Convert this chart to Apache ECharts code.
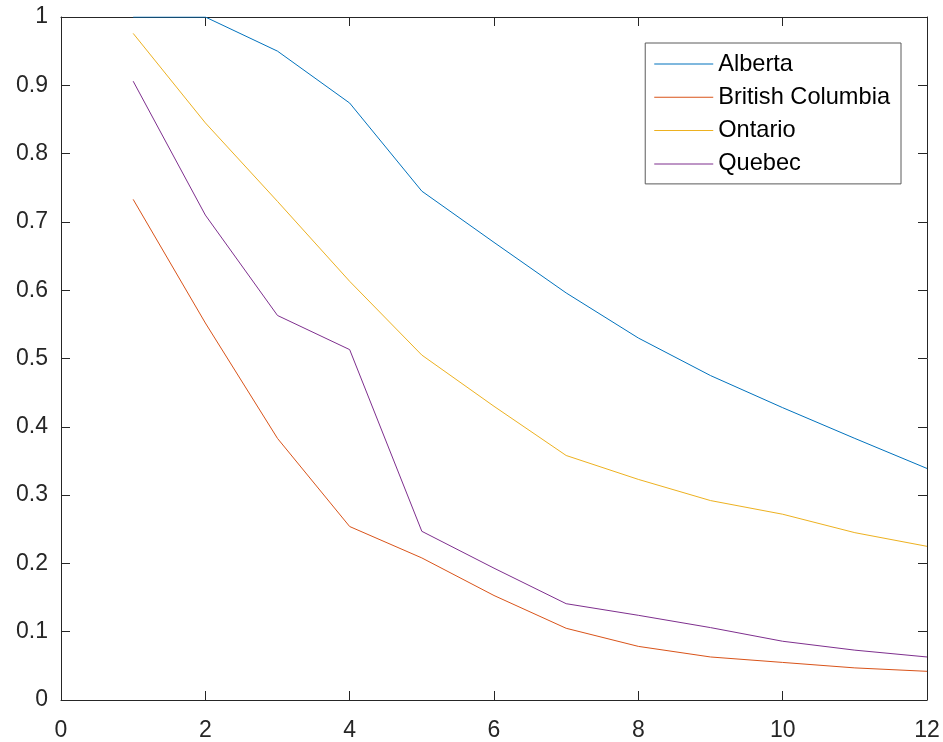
<!DOCTYPE html>
<html>
<head>
<meta charset="utf-8">
<script src="https://cdn.jsdelivr.net/npm/echarts@6/dist/echarts.min.js"></script>
<style>html,body{margin:0;padding:0;background:#fff}#c{width:943px;height:742px}</style>
</head>
<body>
<div id="c"></div>
<script>
const xValues = [1,2,3,4,5,6,7,8,9,10,11,12];
const alberta = [1.0,1.0,0.950,0.874,0.745,0.670,0.596,0.530,0.475,0.428,0.383,0.339];
const britishColumbia = [0.733,0.552,0.383,0.254,0.208,0.153,0.105,0.0785,0.063,0.055,0.047,0.042];
const ontario = [0.976,0.845,0.730,0.613,0.505,0.430,0.358,0.323,0.292,0.272,0.245,0.225];
const quebec = [0.906,0.710,0.563,0.513,0.247,0.193,0.141,0.124,0.106,0.086,0.073,0.063];
const seriesNames = ['Alberta','British Columbia','Ontario','Quebec'];
const seriesColors = ['#0072BD','#D95319','#EDB120','#7E2F8E'];
const allSeries = [alberta, britishColumbia, ontario, quebec];

const axisCol = '#262626';
const font = 'Liberation Sans, Arial, Helvetica, sans-serif';
const chart = echarts.init(document.getElementById('c'), null, {renderer:'canvas'});
const mkX = (pos, labels) => ({
  type:'value', position:pos, min:0, max:12, interval:2,
  axisLine:{show:true, onZero:false, lineStyle:{color:axisCol, width:1}},
  axisTick:{show:true, inside:true, length:9, lineStyle:{color:axisCol}},
  axisLabel:{show:labels, color:axisCol, fontSize:23, fontFamily:font, margin:19},
  splitLine:{show:false}
});
const mkY = (pos, labels) => ({
  type:'value', position:pos, min:0, max:1, interval:0.1,
  axisLine:{show:true, onZero:false, lineStyle:{color:axisCol, width:1}},
  axisTick:{show:true, inside:true, length:9, lineStyle:{color:axisCol}},
  axisLabel:{show:labels, color:axisCol, fontSize:23, fontFamily:font, margin:13,
    formatter: v => String(Math.round(v*10)/10)},
  splitLine:{show:false}
});
chart.setOption({
  animation:false,
  backgroundColor:'#fff',
  grid:{left:61, right:16, top:17, bottom:41, containLabel:false},
  xAxis:[mkX('bottom', true), mkX('top', false)],
  yAxis:[mkY('left', true), mkY('right', false)],
  legend:{
    orient:'vertical', right:42, top:43,
    backgroundColor:'#fff', borderColor:'#5a5a5a', borderWidth:1,
    padding:[8,11,7,9], itemGap:7.3, itemWidth:59, itemHeight:14,
    textStyle:{color:'#000', fontSize:23.6, fontFamily:font, lineHeight:26},
    data: seriesNames.map(n => ({name:n, icon:'path://M0,0 L59,0 L59,1 L0,1 Z'}))
  },
  series: allSeries.map((arr, i) => ({
    name: seriesNames[i], type:'line', symbol:'none', showSymbol:false,
    xAxisIndex:0, yAxisIndex:0,
    color: seriesColors[i],
    lineStyle:{width:1, color:seriesColors[i]},
    data: xValues.map((x, j) => [x, arr[j]])
  }))
});
</script>
</body>
</html>
